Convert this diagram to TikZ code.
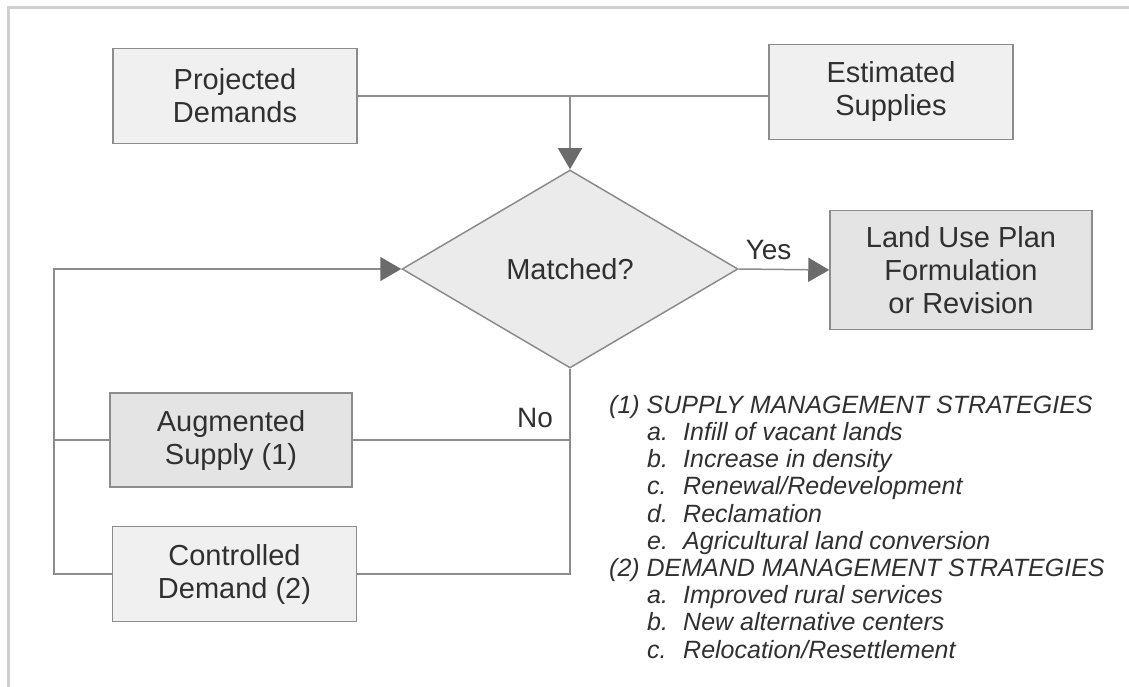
\documentclass[tikz,border=0pt]{standalone}
\usepackage{fontspec}
\setmainfont{Liberation Sans}
\usetikzlibrary{shapes.geometric,arrows.meta}
\definecolor{boxfill}{HTML}{F0F0F0}
\definecolor{boxdark}{HTML}{E4E4E4}
\definecolor{dmdfill}{HTML}{EBEBEB}
\definecolor{edgegray}{HTML}{8C8C8C}
\definecolor{tipgray}{HTML}{6B6B6B}
\definecolor{framegray}{HTML}{CFCFCF}
\definecolor{txtgray}{HTML}{303030}
\newcommand{\stratitem}[2]{\hspace*{38pt}\makebox[36pt][l]{#1}#2}
\begin{document}
\begin{tikzpicture}[x=1pt,y=-1pt]
		\tikzset{box/.style = {shape=rectangle,draw=edgegray,fill=boxfill,line width=1.5pt,minimum width=244pt,minimum height=95pt,align=center,text=txtgray,font=\fontsize{29}{33}\selectfont}}
		\tikzset{darkbox/.style = {box,fill=boxdark}}
		\tikzset{decision/.style = {shape=diamond,draw=edgegray,fill=dmdfill,line width=1.5pt,inner sep=0pt,minimum width=336pt,minimum height=198pt,text=txtgray,font=\fontsize{29}{33}\selectfont}}
		\tikzset{link/.style = {draw=edgegray,line width=1.5pt}}
		\tikzset{flow/.style = {link,-{Triangle[length=21pt,width=24pt,color=tipgray]}}}
		\tikzset{answer/.style = {text=txtgray,font=\fontsize{28}{32}\selectfont}}
		\useasboundingbox (0,0) rectangle (1129,687);
		\draw[framegray,line width=3pt] (8,687) -- (8,8) -- (1129,8);
		\node[box] (pd) at (235,96) {Projected\\Demands};
		\node[box] (es) at (891,92) {Estimated\\Supplies};
		\node[decision] (md) at (570,269) {Matched?};
		\node[darkbox,minimum width=262pt,minimum height=119pt] (lu) at (961,270) {Land Use Plan\\Formulation\\or Revision};
		\node[darkbox,minimum width=242pt,minimum height=94pt] (as) at (231,440) {Augmented\\Supply (1)};
		\node[box] (cd) at (234.5,574) {Controlled\\Demand (2)};
		\coordinate (lp) at (54,269);
		\path[link] (pd.east) -- (pd.east -| es.west);
		\path[flow] (pd.east -| md.north) -- (md.north);
		\path[flow] (md.east) -- node[answer,above=5pt,pos=0.33] {Yes} (lu.west);
		\path[link] (md.south) -- (md.south |- cd.east) -- (cd.east);
		\path[link] (as.east) -- (as.east -| md.south) node[answer,anchor=south east,xshift=-13pt,yshift=8pt] {No};
		\path[flow] (cd.west) -- (cd.west -| lp) -- (lp) -- (md.west);
		\path[link] (as.west) -- (as.west -| lp);
		\node[anchor=north west,inner sep=0pt,align=left,text=txtgray,font=\fontsize{25}{27.2}\selectfont\itshape] (ms) at (609,395) {(1) SUPPLY MANAGEMENT STRATEGIES\\
			\stratitem{a.}{Infill of vacant lands}\\
			\stratitem{b.}{Increase in density}\\
			\stratitem{c.}{Renewal/Redevelopment}\\
			\stratitem{d.}{Reclamation}\\
			\stratitem{e.}{Agricultural land conversion}\\
			(2) DEMAND MANAGEMENT STRATEGIES\\
			\stratitem{a.}{Improved rural services}\\
			\stratitem{b.}{New alternative centers}\\
			\stratitem{c.}{Relocation/Resettlement}};
	\end{tikzpicture}
\end{document}
